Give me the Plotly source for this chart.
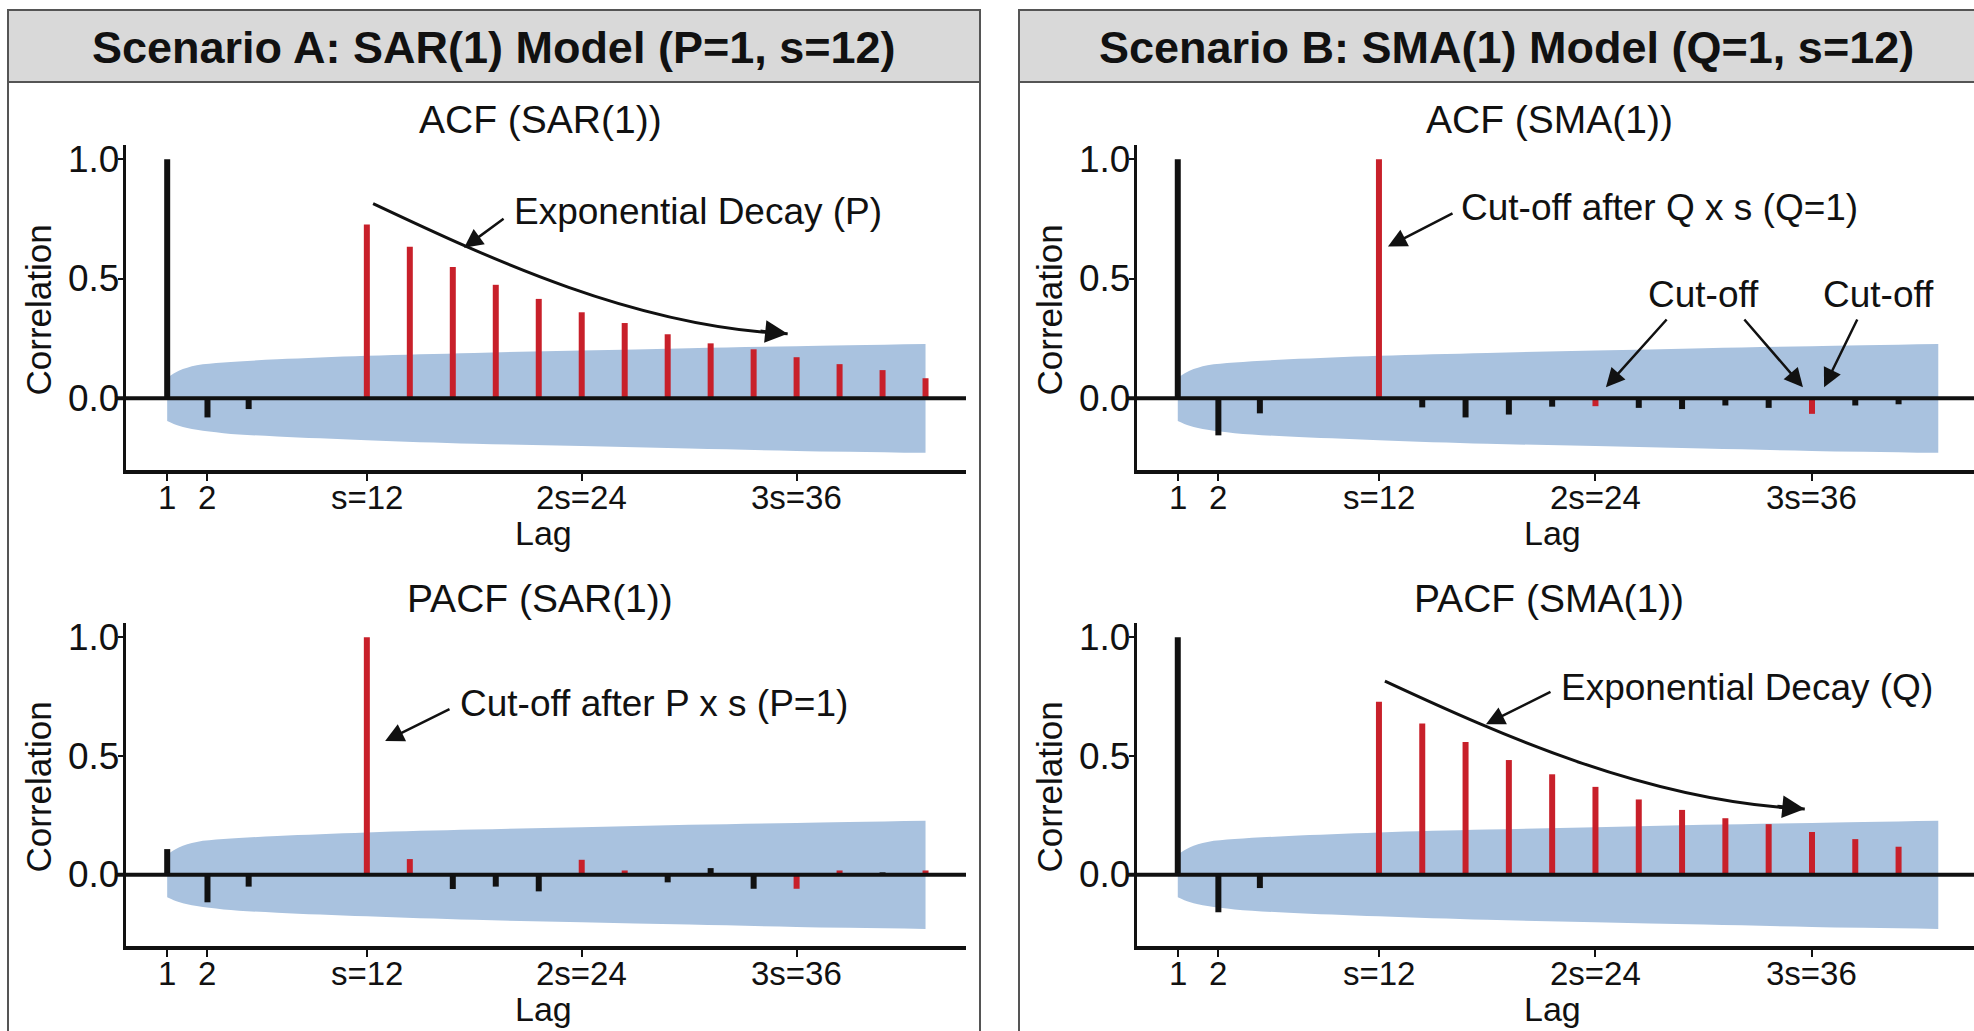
import plotly.graph_objects as go

W, H = 1974, 1031
FONT = "Liberation Sans, Arial, sans-serif"
RED = "#c8202a"
BLACK = "#111111"
BAND = "#a9c2df"

# ---------------- data ----------------
lag_pos = [0.85, 3.1, 5.4, 12.0, 14.4, 16.8, 19.2, 21.6, 24.0, 26.4, 28.8,
           31.2, 33.6, 36.0, 38.4, 40.8, 43.2]
tick_vals = [0.85, 3.1, 12.0, 24.0, 36.0]
tick_text = ["1", "2", "s=12", "2s=24", "3s=36"]
ytick_vals = [0.0, 0.5, 1.0]
ytick_text = ["0.0", "0.5", "1.0"]

sar_acf = [1.0, -0.08, -0.045, 0.727, 0.634, 0.55, 0.475, 0.416, 0.36, 0.315,
           0.268, 0.23, 0.205, 0.172, 0.143, 0.118, 0.084]
sar_acf_red = [0, 0, 0, 1, 1, 1, 1, 1, 1, 1, 1, 1, 1, 1, 1, 1, 1]

sar_pacf = [0.108, -0.116, -0.05, 1.0, 0.066, -0.06, -0.05, -0.07, 0.063, 0.018,
            -0.032, 0.028, -0.059, -0.059, 0.018, 0.01, 0.018]
sar_pacf_red = [0, 0, 0, 1, 1, 0, 0, 0, 1, 1, 0, 0, 0, 1, 1, 0, 1]

sma_acf = [1.0, -0.155, -0.063, 1.0, -0.038, -0.08, -0.068, -0.035, -0.033,
           -0.04, -0.045, -0.03, -0.04, -0.065, -0.03, -0.025]
sma_acf_red = [0, 0, 0, 1, 0, 0, 0, 0, 1, 0, 0, 0, 0, 1, 0, 0]

sma_pacf = [1.0, -0.158, -0.056, 0.728, 0.637, 0.559, 0.483, 0.423, 0.37,
            0.317, 0.273, 0.238, 0.213, 0.18, 0.15, 0.118]
sma_pacf_red = [0, 0, 0, 1, 1, 1, 1, 1, 1, 1, 1, 1, 1, 1, 1, 1]

band_x_left = [0.85, 1.5, 2.5, 4.0, 7.0, 12.0, 18.0, 24.0, 30.0, 36.0, 43.2]
band_x_right = [0.85, 1.5, 2.5, 4.0, 7.0, 12.0, 18.0, 24.0, 30.0, 36.0, 43.0]
band_up = [0.085, 0.115, 0.138, 0.15, 0.163, 0.178, 0.19, 0.2, 0.21, 0.218, 0.227]
band_lo = [-0.095, -0.115, -0.132, -0.146, -0.16, -0.175, -0.19, -0.2, -0.21, -0.22, -0.228]

# ---------------- layout helpers ----------------
def px_x(p):
    return p / W

def px_y(p):
    return 1 - p / H

panels = [
    ("", sar_acf, sar_acf_red, band_x_left, "ACF (SAR(1))", (126, 966), (145, 470), [-1.45, 45.46], 546),
    ("2", sma_acf, sma_acf_red, band_x_right, "ACF (SMA(1))", (1137, 1974), (145, 470), [-1.41, 44.98], 1555),
    ("3", sar_pacf, sar_pacf_red, band_x_left, "PACF (SAR(1))", (126, 966), (623, 946), [-1.45, 45.46], 546),
    ("4", sma_pacf, sma_pacf_red, band_x_right, "PACF (SMA(1))", (1137, 1974), (623, 946), [-1.41, 44.98], 1555),
]

fig = go.Figure()
shapes = []
annotations = []

# panel frames and headers
for (x0, x1, cx, title) in [(8, 980, 494, "Scenario A: SAR(1) Model (P=1, s=12)"),
                            (1019, 1993, 1506, "Scenario B: SMA(1) Model (Q=1, s=12)")]:
    shapes.append(dict(type="rect", xref="paper", yref="paper", x0=px_x(x0), x1=px_x(x1),
                       y0=px_y(1040), y1=px_y(10), line=dict(color="#555555", width=2),
                       fillcolor="rgba(0,0,0,0)", layer="below"))
    shapes.append(dict(type="rect", xref="paper", yref="paper", x0=px_x(x0), x1=px_x(x1),
                       y0=px_y(82), y1=px_y(10), line=dict(color="#555555", width=2),
                       fillcolor="#d9d9d9", layer="below"))
    annotations.append(dict(xref="paper", yref="paper", x=px_x(cx), y=px_y(47), text=f"<b>{title}</b>",
                            showarrow=False, xanchor="center", yanchor="middle",
                            font=dict(family=FONT, size=45, color="#111111")))


def stems(xs, vals, flags, want):
    sx, sy = [], []
    for x, v, f in zip(xs, vals, flags):
        if f == want:
            sx += [x, x, None]
            sy += [0, v, None]
    return sx, sy


for suf, vals, red, bx, sub, (dx0, dx1), (dy0, dy1), xr, cxp in panels:
    xa = "x" + suf
    ya = "y" + suf
    n = len(vals)
    xs = lag_pos[:n]
    # confidence band
    for b in (band_up, band_lo):
        fig.add_trace(go.Scatter(x=bx, y=b, xaxis=xa, yaxis=ya, mode="lines",
                                 line=dict(width=0, shape="spline", color=BAND), fill="tozeroy",
                                 fillcolor=BAND, hoverinfo="skip", showlegend=False))
    # stems (bars)
    for want, col in ((0, BLACK), (1, RED)):
        sx, sy = stems(xs, vals, red, want)
        fig.add_trace(go.Scatter(x=sx, y=sy, xaxis=xa, yaxis=ya, mode="lines",
                                 line=dict(color=col, width=6), hoverinfo="skip",
                                 showlegend=False))
    # zero line
    shapes.append(dict(type="line", xref=f"{xa} domain", yref=ya, x0=-0.011, x1=1.0, y0=0, y1=0,
                       line=dict(color=BLACK, width=4), layer="above"))
    wpx = dx1 - dx0
    hpx = dy1 - dy0
    # subtitle
    annotations.append(dict(xref="paper", yref="paper", x=px_x(cxp - 6),
                            y=px_y(dy0 - 25), text=sub, showarrow=False,
                            xanchor="center", yanchor="middle",
                            font=dict(family=FONT, size=39, color="#111111")))
    # x title
    annotations.append(dict(xref="paper", yref="paper", x=px_x(cxp - 3),
                            y=px_y(dy1 + 63), text="Lag", showarrow=False,
                            xanchor="center", yanchor="middle",
                            font=dict(family=FONT, size=34, color="#111111")))
    # y title
    annotations.append(dict(xref="paper", yref="paper", x=px_x(dx0 - 88), y=px_y((dy0 + dy1) / 2 + 3),
                            text="Correlation", showarrow=False, textangle=-90,
                            xanchor="center", yanchor="middle",
                            font=dict(family=FONT, size=35, color="#111111")))
    # x tick labels
    for tv, tt in zip(tick_vals, tick_text):
        annotations.append(dict(xref=xa, yref=f"{ya} domain", x=tv, y=-27.0 / hpx, text=tt,
                                showarrow=False, xanchor="center", yanchor="middle",
                                font=dict(family=FONT, size=33, color="#111111")))
    # y tick labels
    for tv, tt in zip(ytick_vals, ytick_text):
        annotations.append(dict(xref=f"{xa} domain", yref=ya, x=-5.0 / wpx, y=tv, text=tt,
                                showarrow=False, xanchor="right", yanchor="middle",
                                font=dict(family=FONT, size=37, color="#111111")))

    xkey = "xaxis" + suf
    ykey = "yaxis" + suf
    fig.layout[xkey] = dict(domain=[px_x(dx0), min(1.0, px_x(dx1))], range=xr, anchor=ya,
                            showgrid=False, zeroline=False, showline=True, linecolor=BLACK,
                            linewidth=3.5, ticks="outside", ticklen=7, tickwidth=2,
                            tickcolor=BLACK, tickvals=tick_vals, showticklabels=False)
    fig.layout[ykey] = dict(domain=[px_y(dy1), px_y(dy0)], range=[-0.30, 1.06], anchor=xa,
                            showgrid=False, zeroline=False, showline=True, linecolor=BLACK,
                            linewidth=3, ticks="outside", ticklen=5, tickwidth=2,
                            tickcolor=BLACK, tickvals=ytick_vals, showticklabels=False)


def curve(xa, ya, p0, p3):
    c1 = (p0[0] + 6.65, p0[1] - 0.235)
    c2 = (p3[0] - 8.5, p3[1] + 0.03)
    shapes.append(dict(type="path", xref=xa, yref=ya,
                       path=f"M {p0[0]},{p0[1]} C {c1[0]},{c1[1]} {c2[0]},{c2[1]} {p3[0]},{p3[1]}",
                       line=dict(color=BLACK, width=3), layer="above"))
    annotations.append(dict(xref=xa, yref=ya, axref=xa, ayref=ya, x=p3[0], y=p3[1],
                            ax=p3[0] - 1.6, ay=p3[1] + 0.012, text="", showarrow=True,
                            arrowhead=2, arrowsize=1.5, arrowwidth=3, arrowcolor=BLACK))


def arrow(xa, ya, tail, head):
    annotations.append(dict(xref=xa, yref=ya, axref=xa, ayref=ya, x=head[0], y=head[1],
                            ax=tail[0], ay=tail[1], text="", showarrow=True,
                            arrowhead=2, arrowsize=1.5, arrowwidth=2.5, arrowcolor=BLACK))


def label(xa, ya, x, y, text, anchor="left"):
    annotations.append(dict(xref=xa, yref=ya, x=x, y=y, text=text, showarrow=False,
                            xanchor=anchor, yanchor="middle",
                            font=dict(family=FONT, size=37, color="#111111")))


# SAR ACF
curve("x", "y", (12.35, 0.815), (35.5, 0.27))
arrow("x", "y", (19.72, 0.756), (17.43, 0.63))
label("x", "y", 20.1, 0.78, "Exponential Decay (P)")
# SAR PACF
arrow("x3", "y3", (16.7, 0.70), (13.02, 0.563))
label("x3", "y3", 17.1, 0.72, "Cut-off after P x s (P=1)")
# SMA ACF
arrow("x2", "y2", (16.16, 0.777), (12.5, 0.635))
label("x2", "y2", 16.45, 0.80, "Cut-off after Q x s (Q=1)")
label("x2", "y2", 30.0, 0.435, "Cut-off", anchor="center")
label("x2", "y2", 39.7, 0.435, "Cut-off", anchor="center")
arrow("x2", "y2", (28.02, 0.336), (24.58, 0.046))
arrow("x2", "y2", (32.18, 0.336), (35.5, 0.046))
arrow("x2", "y2", (38.55, 0.336), (36.67, 0.046))
# SMA PACF
curve("x4", "y4", (12.33, 0.815), (35.6, 0.277))
arrow("x4", "y4", (21.59, 0.773), (17.93, 0.634))
label("x4", "y4", 22.0, 0.79, "Exponential Decay (Q)")

fig.update_layout(width=W, height=H, margin=dict(l=0, r=0, t=0, b=0),
                  paper_bgcolor="white", plot_bgcolor="rgba(0,0,0,0)",
                  shapes=shapes, annotations=annotations,
                  showlegend=False, font=dict(family=FONT))

fig.write_html("out.html", config={"displayModeBar": False},
               post_script="document.body.style.margin='0';document.body.style.overflow='hidden';")
